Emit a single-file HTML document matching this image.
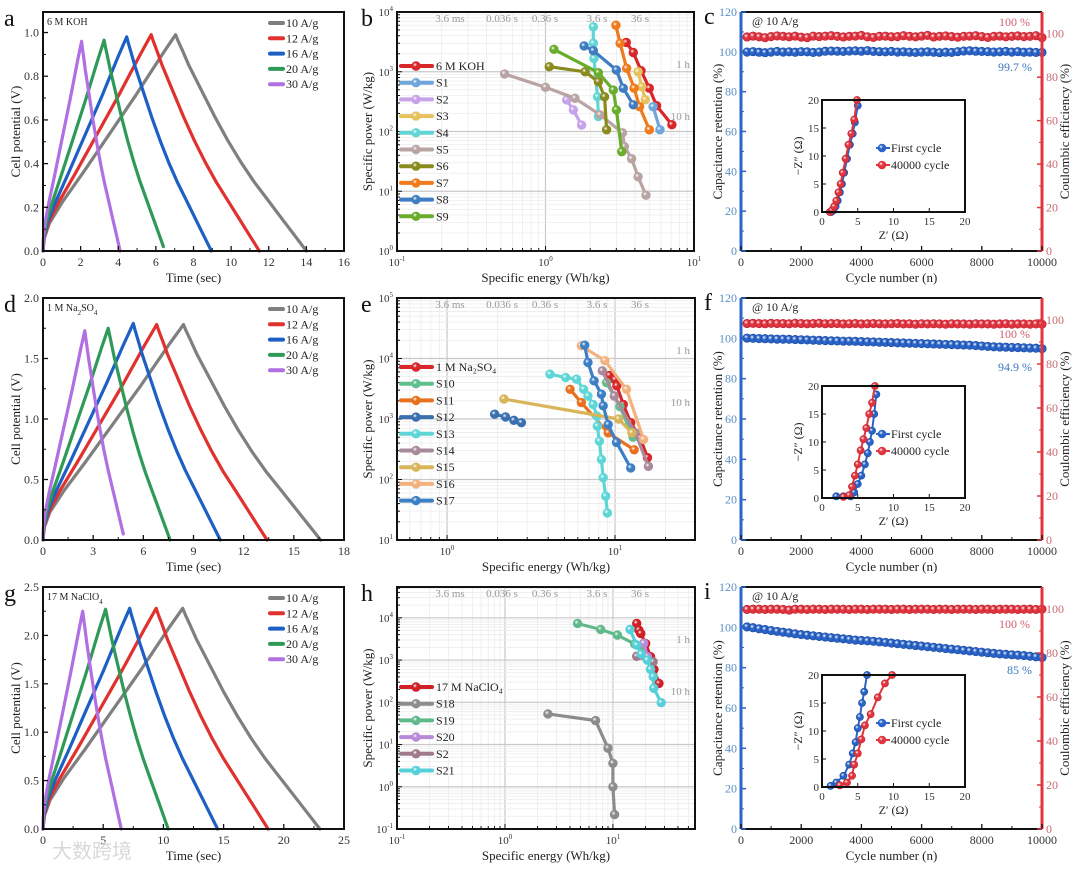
<!DOCTYPE html>
<html><head><meta charset="utf-8">
<style>
html,body{margin:0;padding:0;background:#fff;}
svg{display:block;font-family:"Liberation Serif","Noto Serif CJK SC",serif;}
</style></head>
<body>
<svg id="fig" width="1080" height="869" viewBox="0 0 1080 869" xmlns="http://www.w3.org/2000/svg">
<defs>
</defs>
</svg>
<script>
// ---------------- DATA ----------------
// GCD (panels a, d, g)
const gcdRates = ['10 A/g','12 A/g','16 A/g','20 A/g','30 A/g'];
const gcdColors = ['#7f7f7f','#e0312f','#1d5fc4','#2f9a58','#b06fe2'];
const aPeakT = [7.05,5.75,4.45,3.25,2.05];
const aPeakV = [0.99,0.99,0.98,0.965,0.96];
const aEndT = [14.0,11.5,8.95,6.4,4.1];
const aEndV = [0,0,0,0.02,0];
const dPeakT = [8.4,6.8,5.4,3.9,2.5];
const dPeakV = [1.78,1.78,1.79,1.75,1.73];
const dEndT = [16.6,13.4,10.6,7.6,4.8];
const dEndV = [0,0,0,0,0.05];
const gPeakT = [11.6,9.4,7.2,5.2,3.3];
const gPeakV = [2.28,2.28,2.28,2.27,2.25];
const gEndT = [23.0,18.7,14.5,10.4,6.5];
const gEndV = [0,0,0,0,0];
const chargeU = [0,0.01,0.05,0.15,0.3,0.5,0.7,0.9,1];
const chargeF = [0,0.06,0.13,0.23,0.36,0.54,0.72,0.91,1];
const dischargeU = [0,0.02,0.05,0.1,0.2,0.3,0.4,0.5,0.6,0.7,0.8,0.9,1];
const dischargeF = [1,0.97,0.93,0.86,0.74,0.62,0.51,0.41,0.32,0.24,0.16,0.08,0];

// Ragone b
const bNames = ['6 M KOH','S1','S2','S3','S4','S5','S6','S7','S8','S9'];
const bColors = ['#d8262a','#6ea6dc','#c6a2ea','#e6c15c','#62d6d6','#b9a3a3','#8b8a1f','#f07a1c','#3f7cc2','#69ad2c'];
const bE0=[3.5,3.9,4.4,5.0,5.6,7.1], bP0=[3090,2100,1040,530,270,130];
const bE1=[5.3,5.9], bP1=[260,107];
const bE2=[1.39,1.54,1.75], bP2=[337,230,128];
const bE3=[4.2,4.45,4.7], bP3=[1000,560,340];
const bE4=[2.1,2.1,2.12,2.24,2.27], bP4=[5650,3000,1670,380,178];
const bE5=[0.53,1.0,1.58,2.33,3.3,3.4,3.8,4.2,4.75], bP5=[920,550,360,190,95,56,35,17.5,8.6];
const bE6=[1.06,1.85,2.27,2.5,2.58], bP6=[1216,1000,680,380,107];
const bE7=[2.98,3.18,3.52,3.95,4.3,5.0], bP7=[6000,2990,1140,530,260,107];
const bE8=[1.82,2.1,3.0,3.34,3.9], bP8=[2700,2250,1070,530,280];
const bE9=[1.14,2.27,2.86,3.0,3.26], bP9=[2370,966,494,230,46];

// Ragone e
const eNames = ['1 M Na\u2082SO\u2084','S10','S11','S12','S13','S14','S15','S16','S17'];
const eColors = ['#d8262a','#5fbf8f','#e8701e','#3a6fb0','#5fd6d6','#a98a9a','#d9b55a','#f2b27f','#3d7fc4'];
const eE0=[9.25,10,10.25,11.2,12.4,14.1,15.6], eP0=[5250,4470,3530,1740,870,490,230];
const eE1=[8.9,10.7,12.8], eP1=[4000,1600,500];
const eE2=[5.4,6.3,9.1,13], eP2=[3100,1870,590,310];
const eE3=[1.92,2.23,2.5,2.77], eP3=[1200,1080,950,870];
const eE4=[4.1,5.08,5.9,6.5,6.9,7.4,7.8,7.85,8.07,8.3,8.5,8.8,9.0], eP4=[5500,4850,4550,3100,2400,1740,1120,760,430,215,107,53,28];
const eE5=[8.4,9.9,13.2,15.8], eP5=[6250,2400,590,165];
const eE6=[2.18,10.5,12.6], eP6=[2140,1000,590];
const eE7=[6.3,8.7,11.7,14.8], eP7=[16200,9200,3100,460];
const eE8=[6.6,6.9,7.5,8.3,8.5,9.1,10.2,12.4], eP8=[16600,8600,4270,2570,1650,810,410,155];

// Ragone h
const hNames = ['17 M NaClO\u2084','S18','S19','S20','S2','S21'];
const hColors = ['#d01f25','#8c8c8c','#5fb98a','#b98ad8','#a07a8a','#55d0d8'];
const hE0=[16.6,17.4,18.1,20.1,22.3,24,26.7], hP0=[7350,5100,4260,2460,1200,600,280];
const hE1=[2.5,6.9,9.0,10,10,10.35], hP1=[53,37,8.2,3.6,1.0,0.22];
const hE2=[4.7,7.7,11,15.9,18.7], hP2=[7350,5300,3900,2400,2060];
const hE3=[19.3,20.9], hP3=[2500,1200];
const hE4=[16.6,23.6], hP4=[1230,910];
const hE5=[14.4,16.6,18.3,20.8,22.3,23.6,23.9,28], hP5=[5300,2260,1380,1000,600,405,215,98];

// Cycling (c, f, i)
const cycles = [200,400,600,800,1000,1200,1400,1600,1800,2000,2200,2400,2600,2800,3000,3200,3400,3600,3800,4000,4200,4400,4600,4800,5000,5200,5400,5600,5800,6000,6200,6400,6600,6800,7000,7200,7400,7600,7800,8000,8200,8400,8600,8800,9000,9200,9400,9600,9800,10000];
const cRet = [99.9,100.1,99.8,99.6,99.9,100.2,99.9,100,99.8,100.1,100,99.7,99.9,100.3,100.4,100.3,100.2,100.4,100.5,100.3,100.6,100.2,100.1,100,100.2,99.9,100,99.8,99.7,99.9,100,99.8,99.6,99.8,99.7,100.1,100.4,100.5,100.3,100.2,100.1,99.9,100,100.2,99.9,100.1,99.8,99.9,99.7,99.7];
const cCE = [98.5,98.9,98.6,98.2,98.7,99,98.8,98.6,98.9,98.4,98.2,98.9,98.7,98.9,99.1,98.8,98.5,98.8,98.9,99.2,98.6,98.3,98.8,98.9,98.6,98.7,99.1,98.8,98.6,98.9,99.2,98.5,98.8,99,98.7,98.4,98.8,98.9,99.1,98.7,98.3,98.8,98.9,98.6,98.8,99.0,98.7,98.8,99.1,98.2];
const fRet = [100.1,100,99.9,99.8,99.7,99.6,99.6,99.5,99.4,99.3,99.2,99.1,99,98.9,98.8,98.7,98.6,98.6,98.5,98.4,98.3,98.2,98.1,98,97.9,97.8,97.7,97.6,97.5,97.4,97.3,97.2,97.1,97,96.9,96.8,96.7,96.6,96.4,96.2,96,95.8,95.7,95.6,95.5,95.4,95.3,95.2,95.1,94.9];
const fCE = [98.4,98.5,98.4,98.3,98.5,98.4,98.4,98.3,98.5,98.4,98.3,98.4,98.5,98.3,98.4,98.4,98.2,98.3,98.4,98.2,98.3,98.4,98.3,98.2,98.3,98.4,98.2,98.3,98.1,98.3,98.2,98.3,98.2,98.1,98.3,98.2,98.2,98.1,98.3,98.2,98.2,98.1,98.2,98.3,98.1,98.2,98.2,98.1,98.2,98.1];
const iRet = [100.2,99.8,99.3,98.9,98.4,98,97.6,97.2,96.8,96.4,96.1,95.8,95.5,95.2,94.9,94.6,94.3,94,93.7,93.5,93.3,93.1,92.8,92.5,92.2,91.9,91.6,91.3,91,90.7,90.4,90.1,89.8,89.5,89.2,88.9,88.6,88.3,88,87.7,87.4,87.1,86.8,86.6,86.4,86.2,86,85.7,85.4,85.0];
const iCE = [99.8,99.9,99.9,99.8,99.9,99.9,99.8,99.5,99.9,99.9,99.8,99.9,99.9,99.8,99.9,99.9,99.9,99.8,99.9,99.9,99.8,99.9,99.9,99.9,99.8,99.9,99.9,99.8,99.9,99.9,99.9,99.8,99.9,99.9,99.8,99.9,99.9,99.9,99.8,99.9,99.9,99.8,99.9,99.9,99.9,99.8,99.9,99.9,99.8,99.9];
// EIS insets
const cZre1=[1.3,1.6,1.9,2.2,2.5,2.8,3.1,3.5,3.9,4.3,4.6,5.0], cZim1=[0,0.3,1,2,3.5,5,7,9.5,12,14,16,19];
const cZre2=[1.1,1.4,1.7,2.0,2.3,2.6,2.9,3.3,3.7,4.1,4.5,4.9], cZim2=[0,0.3,1,2,3.5,5,7,9.5,12,14,16.5,20];
const fZre1=[2,3,4,4.5,5,5.5,6,6.4,6.7,7,7.3,7.6], fZim1=[0.3,0.3,0.3,1,2.5,4,6,8,10,12,15,18.5];
const fZre2=[3,3.8,4.2,4.6,5,5.4,5.8,6.2,6.6,7,7.4], fZim2=[0.2,0.5,2,4,6,8.5,10.5,12.5,15,17,20];
const iZre1=[1.2,2,3,3.8,4.3,4.7,5,5.3,5.6,5.9,6.3], iZim1=[0.2,0.8,2,4,6,8,10.5,12.5,15,17,20];
const iZre2=[2.5,3.5,4.2,4.5,5,5.5,6,6.8,7.8,8.8,9.8], iZim2=[0.3,0.8,2,4,6,8.5,11,13,16,18.5,20];

// ---------------- HELPERS ----------------
const NS='http://www.w3.org/2000/svg';
const svg=document.getElementById('fig');
const defs=svg.querySelector('defs');
function mk(tag,attrs,parent){const e=document.createElementNS(NS,tag);for(const k in attrs)e.setAttribute(k,attrs[k]);(parent||svg).appendChild(e);return e;}
function lin(d0,d1,r0,r1){return v=>r0+(v-d0)/(d1-d0)*(r1-r0);}
function lg(d0,d1,r0,r1){const a=Math.log10(d0),b=Math.log10(d1);return v=>r0+(Math.log10(v)-a)/(b-a)*(r1-r0);}
let gradId=0;
function grad(color){
  const id='g'+(gradId++);
  const g=mk('radialGradient',{id:id,cx:'0.38',cy:'0.35',r:'0.7'},defs);
  mk('stop',{offset:'0',['stop-color']:'#ffffff'},g);
  mk('stop',{offset:'0.35',['stop-color']:color},g);
  mk('stop',{offset:'1',['stop-color']:color},g);
  return 'url(#'+id+')';
}
function text(x,y,s,opt,parent){
  opt=opt||{};
  const t=mk('text',{x:x,y:y,'font-size':opt.size||12,'text-anchor':opt.anchor||'middle',fill:opt.fill||'#222'},parent);
  if(opt.rot!==undefined)t.setAttribute('transform','rotate('+opt.rot+' '+x+' '+y+')');
  if(opt.weight)t.setAttribute('font-weight',opt.weight);
  t.textContent=s;
  return t;
}
function powText(x,y,exp,opt,parent){
  const t=mk('text',{x:x,y:y,'font-size':11,'text-anchor':opt&&opt.anchor||'middle',fill:'#333'},parent);
  t.appendChild(document.createTextNode('10'));
  const sp=mk('tspan',{dy:-5,'font-size':7},t);
  sp.textContent=String(exp);
  return t;
}
function frame(x0,y0,x1,y1,parent){
  const r=mk('rect',{x:x0,y:y0,width:x1-x0,height:y1-y0,fill:'none',stroke:'#111','stroke-width':2},parent);
  
  
  return r;
}
function linTicks(g,B,xs,ys,xt,xm,yt,ym,xfmt,yfmt,tcol){
  xt.forEach(v=>{const X=xs(v);mk('line',{x1:X,x2:X,y1:B.y1,y2:B.y1-5,stroke:'#111','stroke-width':1.3},g);
    const t=text(X,B.y1+15,xfmt(v),{size:12,fill:'#333'},g);
    
    });
  xm.forEach(v=>{const X=xs(v);mk('line',{x1:X,x2:X,y1:B.y1,y2:B.y1-3,stroke:'#111','stroke-width':1},g);});
  yt.forEach(v=>{const Y=ys(v);mk('line',{x1:B.x0,x2:B.x0+5,y1:Y,y2:Y,stroke:'#111','stroke-width':1.3},g);
    const t=text(B.x0-4,Y+4,yfmt(v),{size:12,anchor:'end',fill:tcol||'#333'},g);
    
    });
  ym.forEach(v=>{const Y=ys(v);mk('line',{x1:B.x0,x2:B.x0+3,y1:Y,y2:Y,stroke:'#111','stroke-width':1},g);});
}
function poly(g,pts,color,w){
  return mk('polyline',{points:pts.map(p=>p[0].toFixed(1)+','+p[1].toFixed(1)).join(' '),fill:'none',stroke:color,'stroke-width':w,'stroke-linejoin':'round','stroke-linecap':'round'},g);
}

// ---------------- GCD PANELS ----------------
function gcdPanel(name,letter,label,B,xmax,ymax,xstep,ystep,pT,pV,eT,eV,yfmtDigits){
  const g=mk('g',{});
  
  
  const xs=lin(0,xmax,B.x0,B.x1), ys=lin(0,ymax,B.y1,B.y0);
  const xt=[],xm=[],yt=[],ym=[];
  for(let v=0;v<=xmax+1e-9;v+=xstep){xt.push(v);if(v+xstep/2<xmax)xm.push(v+xstep/2);}
  for(let v=0;v<=ymax+1e-9;v+=ystep){yt.push(+v.toFixed(2));if(v+ystep/2<ymax)ym.push(v+ystep/2);}
  for(let i=0;i<pT.length;i++){
    const pts=[];
    for(let k=0;k<chargeU.length;k++)pts.push([xs(chargeU[k]*pT[i]),ys(chargeF[k]*pV[i])]);
    for(let k=1;k<dischargeU.length;k++)pts.push([xs(pT[i]+dischargeU[k]*(eT[i]-pT[i])),ys(eV[i]+dischargeF[k]*(pV[i]-eV[i]))]);
    const l=poly(g,pts,gcdColors[i],3.2);
    
    
  }
  frame(B.x0,B.y0,B.x1,B.y1,g);
  linTicks(g,B,xs,ys,xt,xm,yt,ym,v=>String(v),v=>v.toFixed(yfmtDigits));
  // legend
  for(let i=0;i<gcdRates.length;i++){
    const y=B.y0+11+i*15.3;
    const ln=mk('line',{x1:B.x0+227,x2:B.x0+240,y1:y,y2:y,stroke:gcdColors[i],'stroke-width':4,'stroke-linecap':'round'},g);
    
    
    const t=text(B.x0+243,y+4,gcdRates[i],{size:12,anchor:'start'},g);
    
    
  }
  const el=mk('text',{x:B.x0+4,y:B.y0+13,'font-size':10,fill:'#222'},g);
  el.innerHTML=label;
  
  
  const pl=text(4,B.y0+14,letter,{size:24,anchor:'start',fill:'#111'},g);
  
  
  const yt2=text(20,(B.y0+B.y1)/2,'Cell potential (V)',{size:13,rot:-90},g);
  
  
  const xt2=text((B.x0+B.x1)/2,B.y1+31,'Time (sec)',{size:13},g);
  
  
}
gcdPanel('panel-a-gcd-koh','a','6 M KOH',{x0:43,y0:12,x1:344,y1:251},16,1.094,2,0.2,aPeakT,aPeakV,aEndT,aEndV,1);
gcdPanel('panel-d-gcd-na2so4','d','1 M Na<tspan baseline-shift="sub" font-size="7">2</tspan>SO<tspan baseline-shift="sub" font-size="7">4</tspan>',{x0:43,y0:298,x1:344,y1:540},18,2.0,3,0.5,dPeakT,dPeakV,dEndT,dEndV,1);
gcdPanel('panel-g-gcd-naclo4','g','17 M NaClO<tspan baseline-shift="sub" font-size="7">4</tspan>',{x0:43,y0:587,x1:344,y1:829},25,2.5,5,0.5,gPeakT,gPeakV,gEndT,gEndV,1);

// ---------------- RAGONE PANELS ----------------
function ragPanel(name,letter,B,xd0,xd1,yd0,yd1,names,colors,Es,Ps,legTop,xMajors,yMajors){
  const g=mk('g',{});
  
  
  const xs=lg(xd0,xd1,B.x0,B.x1), ys=lg(yd0,yd1,B.y1,B.y0);
  const lx0=Math.floor(Math.log10(xd0)),lx1=Math.ceil(Math.log10(xd1));
  for(let d=lx0;d<lx1;d++)for(let m=1;m<10;m++){const v=m*Math.pow(10,d);if(v<xd0*1.001||v>xd1*0.999)continue;const X=xs(v);
    mk('line',{x1:X,x2:X,y1:B.y0,y2:B.y1,stroke:m===1?'#c8c8c8':'#ececec','stroke-width':m===1?1.2:0.8},g);
    mk('line',{x1:X,x2:X,y1:B.y1,y2:B.y1-(m===1?5:3),stroke:'#111','stroke-width':1},g);}
  const ly0=Math.floor(Math.log10(yd0)),ly1=Math.ceil(Math.log10(yd1));
  for(let d=ly0;d<ly1;d++)for(let m=1;m<10;m++){const v=m*Math.pow(10,d);if(v<yd0*1.001||v>yd1*0.999)continue;const Y=ys(v);
    mk('line',{x1:B.x0,x2:B.x1,y1:Y,y2:Y,stroke:m===1?'#c8c8c8':'#ececec','stroke-width':m===1?1.2:0.8},g);
    mk('line',{x1:B.x0,x2:B.x0+(m===1?5:3),y1:Y,y2:Y,stroke:'#111','stroke-width':1},g);}
  const tl=['3.6 ms','0.036 s','0.36 s','3.6 s','36 s'], tx=[450,502,545,597,640];
  tl.forEach((s,i)=>{const t=text(tx[i],B.y0+10,s,{size:11,fill:'#999'},g);
    
    });
  const h1=text(690,B.y0+56,'1 h',{size:11,fill:'#999',anchor:'end'},g);
  
  
  const h10=text(690,B.y0+108,'10 h',{size:11,fill:'#999',anchor:'end'},g);
  
  
  for(let s=0;s<names.length;s++){
    const pts=Es[s].map((e,k)=>[xs(e),ys(Ps[s][k])]);
    const gs=mk('g',{},g);
    
    
    poly(gs,pts,colors[s],3.2);
    const fill=grad(colors[s]);
    pts.forEach(p=>{const c=mk('circle',{cx:p[0],cy:p[1],r:4.3,fill:fill,stroke:colors[s],'stroke-width':0.8},gs);
      
      });
  }
  frame(B.x0,B.y0,B.x1,B.y1,g);
  xMajors.forEach(d=>{const t=powText(xs(Math.pow(10,d)),B.y1+15,d,{},g);
    
    });
  yMajors.forEach(d=>{const t=powText(B.x0-4,ys(Math.pow(10,d))+4,d,{anchor:'end'},g);
    
    });
  for(let s=0;s<names.length;s++){
    const y=legTop+s*16.7;
    const ln=mk('line',{x1:401,x2:432,y1:y,y2:y,stroke:colors[s],'stroke-width':4,'stroke-linecap':'round'},g);
    
    
    mk('circle',{cx:416,cy:y,r:4.3,fill:grad(colors[s]),stroke:colors[s],'stroke-width':0.8},g);
    const t=text(436,y+4,names[s],{size:12,anchor:'start'},g);
    
    
  }
  const pl=text(361,B.y0+14,letter,{size:24,anchor:'start',fill:'#111'},g);
  
  
  const yt=text(372,(B.y0+B.y1)/2,'Specific power (W/kg)',{size:13,rot:-90},g);
  
  
  const xt=text((B.x0+B.x1)/2,B.y1+31,'Specific energy (Wh/kg)',{size:13},g);
  
  
}
ragPanel('panel-b-ragone-koh','b',{x0:397,y0:12,x1:694,y1:251},0.1,10,1,1e4,bNames,bColors,
  [bE0,bE1,bE2,bE3,bE4,bE5,bE6,bE7,bE8,bE9],[bP0,bP1,bP2,bP3,bP4,bP5,bP6,bP7,bP8,bP9],66,[-1,0,1],[0,1,2,3,4]);
ragPanel('panel-e-ragone-na2so4','e',{x0:397,y0:298,x1:695,y1:540},Math.pow(10,-0.298),Math.pow(10,1.476),10,1e5,eNames,eColors,
  [eE0,eE1,eE2,eE3,eE4,eE5,eE6,eE7,eE8],[eP0,eP1,eP2,eP3,eP4,eP5,eP6,eP7,eP8],367,[0,1],[1,2,3,4,5]);
ragPanel('panel-h-ragone-naclo4','h',{x0:397,y0:587,x1:695,y1:829},0.1,Math.pow(10,1.76),0.1,Math.pow(10,4.73),hNames,hColors,
  [hE0,hE1,hE2,hE3,hE4,hE5],[hP0,hP1,hP2,hP3,hP4,hP5],687,[-1,0,1],[-1,0,1,2,3,4]);

// ---------------- CYCLING PANELS ----------------
function cycPanel(name,letter,B,ret,ce,retLabel,ceY,retY,z1r,z1i,z2r,z2i){
  const g=mk('g',{});
  
  
  const xs=lin(0,10000,B.x0,B.x1), ys=lin(0,120,B.y1,B.y0), yr=lin(0,110,B.y1,B.y0);
  const blue='#2a64c8', red='#e0353f';
  const gb=grad(blue), gr=grad(red);
  const sr=mk('g',{},g);
  
  
  cycles.forEach((c,k)=>{const e=mk('circle',{cx:xs(c),cy:yr(ce[k]),r:4.2,fill:gr,stroke:'#c02030','stroke-width':0.7},sr);
    
    });
  const sb=mk('g',{},g);
  
  
  cycles.forEach((c,k)=>{const e=mk('circle',{cx:xs(c),cy:ys(ret[k]),r:4.2,fill:gb,stroke:'#1a4aa0','stroke-width':0.7},sb);
    
    });
  mk('line',{x1:B.x0,x2:B.x1,y1:B.y0,y2:B.y0,stroke:'#111','stroke-width':2},g);
  mk('line',{x1:B.x0,x2:B.x1,y1:B.y1,y2:B.y1,stroke:'#111','stroke-width':2},g);
  const la=mk('line',{x1:B.x0,x2:B.x0,y1:B.y0,y2:B.y1,stroke:blue,'stroke-width':3},g);
  
  
  const ra=mk('line',{x1:B.x1,x2:B.x1,y1:B.y0,y2:B.y1,stroke:red,'stroke-width':3},g);
  
  
  [0,2000,4000,6000,8000,10000].forEach(v=>{const X=xs(v);mk('line',{x1:X,x2:X,y1:B.y1,y2:B.y1-5,stroke:'#111','stroke-width':1.3},g);
    const t=text(X,B.y1+15,String(v),{size:12,fill:'#333'},g);
    
    });
  [1000,3000,5000,7000,9000].forEach(v=>{const X=xs(v);mk('line',{x1:X,x2:X,y1:B.y1,y2:B.y1-3,stroke:'#111'},g);});
  [0,20,40,60,80,100,120].forEach(v=>{const Y=ys(v);mk('line',{x1:B.x0,x2:B.x0+5,y1:Y,y2:Y,stroke:blue,'stroke-width':1.5},g);
    const t=text(B.x0-4,Y+4,String(v),{size:12,anchor:'end',fill:'#5a8dc4'},g);
    
    });
  [10,30,50,70,90,110].forEach(v=>{const Y=ys(v);mk('line',{x1:B.x0,x2:B.x0+3,y1:Y,y2:Y,stroke:blue},g);});
  [0,20,40,60,80,100].forEach(v=>{const Y=yr(v);mk('line',{x1:B.x1,x2:B.x1-5,y1:Y,y2:Y,stroke:red,'stroke-width':1.5},g);
    const t=text(B.x1+4,Y+4,String(v),{size:12,anchor:'start',fill:'#c86a72'},g);
    
    });
  [10,30,50,70,90].forEach(v=>{const Y=yr(v);mk('line',{x1:B.x1,x2:B.x1-3,y1:Y,y2:Y,stroke:red},g);});
  const cond=text(752,B.y0+13,'@ 10 A/g',{size:12,anchor:'start'},g);
  
  
  const l1=text(1030,ceY,'100 %',{size:12,anchor:'end',fill:'#d06070'},g);
  
  
  const l2=text(1032,retY,retLabel,{size:12,anchor:'end',fill:'#3a78c0'},g);
  
  
  const I={x0:822,x1:965,y0:B.y0+88,y1:B.y0+200};
  const gi=mk('g',{},g);
  
  
  mk('rect',{x:I.x0,y:I.y0,width:I.x1-I.x0,height:I.y1-I.y0,fill:'#fff'},gi);
  const ix=lin(0,20,I.x0,I.x1), iy=lin(0,20,I.y1,I.y0);
  const p2=z2r.map((v,k)=>[ix(v),iy(z2i[k])]), p1=z1r.map((v,k)=>[ix(v),iy(z1i[k])]);
  poly(gi,p1,blue,2);
  p1.forEach(p=>{const c=mk('circle',{cx:p[0],cy:p[1],r:3.6,fill:gb,stroke:'#1a4aa0','stroke-width':0.6},gi);
    
    });
  poly(gi,p2,red,2);
  p2.forEach(p=>{const c=mk('circle',{cx:p[0],cy:p[1],r:3.6,fill:gr,stroke:'#c02030','stroke-width':0.6},gi);
    
    });
  frame(I.x0,I.y0,I.x1,I.y1,gi);
  [0,5,10,15,20].forEach(v=>{
    mk('line',{x1:ix(v),x2:ix(v),y1:I.y1,y2:I.y1-4,stroke:'#111'},gi);
    mk('line',{x1:I.x0,x2:I.x0+4,y1:iy(v),y2:iy(v),stroke:'#111'},gi);
    const tx=text(ix(v),I.y1+13,String(v),{size:11,fill:'#333'},gi);
    
    
    const ty=text(I.x0-3,iy(v)+4,String(v),{size:11,anchor:'end',fill:'#333'},gi);
    
    });
  const ixt=text((I.x0+I.x1)/2,I.y1+27,'Z\u2032 (\u03A9)',{size:12},gi);
  
  
  const iyt=text(I.x0-20,(I.y0+I.y1)/2,'\u2212Z\u2033 (\u03A9)',{size:12,rot:-90},gi);
  
  
  const ly=[I.y0+48,I.y0+65], lc=[blue,red], lf=[gb,gr], lt=['First cycle','40000 cycle'];
  for(let k=0;k<2;k++){
    mk('line',{x1:876,x2:890,y1:ly[k],y2:ly[k],stroke:lc[k],'stroke-width':2},gi);
    mk('circle',{cx:882,cy:ly[k],r:4,fill:lf[k],stroke:lc[k],'stroke-width':0.6},gi);
    const t=text(891,ly[k]+4,lt[k],{size:12,anchor:'start'},gi);
    
    
  }
  const pl=text(704,B.y0+12,letter,{size:24,anchor:'start',fill:'#111'},g);
  
  
  const yt=text(722,(B.y0+B.y1)/2,'Capacitance retention (%)',{size:13,rot:-90},g);
  
  
  const yt2=text(1069,(B.y0+B.y1)/2,'Coulombic efficiency (%)',{size:13,rot:-90},g);
  
  
  const xt=text((B.x0+B.x1)/2,B.y1+31,'Cycle number (n)',{size:13},g);
  
  
}
cycPanel('panel-c-cycling-koh','c',{x0:741,y0:12,x1:1042,y1:251},cRet,cCE,'99.7 %',26,71,cZre1,cZim1,cZre2,cZim2);
cycPanel('panel-f-cycling-na2so4','f',{x0:741,y0:298,x1:1042,y1:540},fRet,fCE,'94.9 %',338,371,fZre1,fZim1,fZre2,fZim2);
cycPanel('panel-i-cycling-naclo4','i',{x0:741,y0:587,x1:1042,y1:829},iRet,iCE,'85 %',628,674,iZre1,iZim1,iZre2,iZim2);

const wm=text(52,858,'大数跨境',{size:20,anchor:'start',fill:'#d8d8d8'});
wm.setAttribute('font-family','"Noto Sans CJK SC", sans-serif');


</script>
</body></html>
